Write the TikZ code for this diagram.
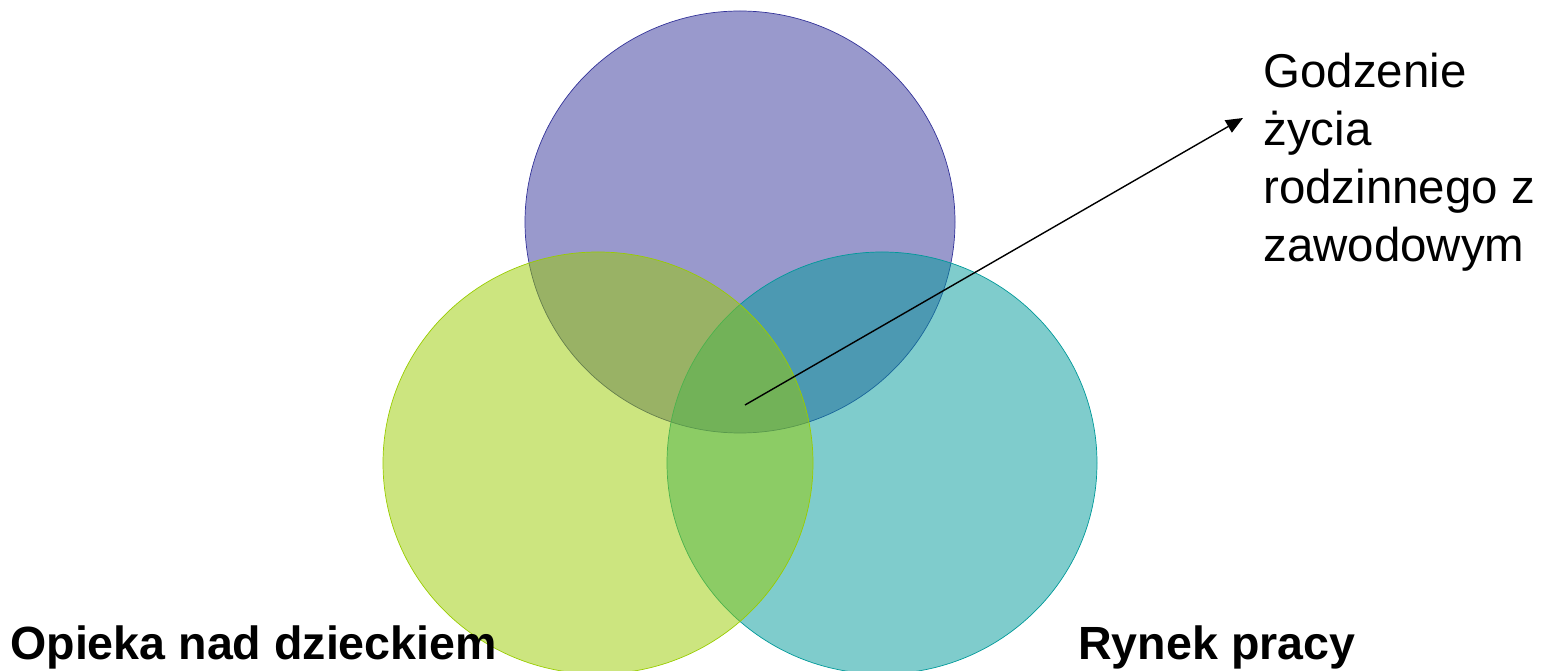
\documentclass[tikz,border=0pt]{standalone}
\usepackage{fontspec}
\setmainfont{Liberation Sans}
\usepackage{tikz}
\usetikzlibrary{shapes,arrows.meta,positioning}

\definecolor{rodzinaBlue}{HTML}{333399}
\definecolor{opiekaGreen}{HTML}{99CC00}
\definecolor{rynekTeal}{HTML}{009999}

\begin{document}
\begin{tikzpicture}
            [
                circlenew/.style={ellipse, thin, fill opacity=0.5, minimum width = 8.6cm, minimum height = 8.44cm, inner sep=0pt},
                labeltext/.style={font=\fontsize{26.5}{33}\selectfont\bfseries, inner sep=0pt, anchor=base west},
                sidetext/.style={font=\fontsize{27}{33}\selectfont, align=left, inner sep=0pt, anchor=north west},
            ]

            \useasboundingbox (0,0) rectangle (30.82,13.42);

            %% CIRCLES
            \node[circlenew, draw=rodzinaBlue, fill=rodzinaBlue] (rodzina) at(14.8,8.98) {};
            \node[circlenew, draw=rynekTeal, fill=rynekTeal] (rynek) at(17.64,4.16) {};
            \node[circlenew, draw=opiekaGreen, fill=opiekaGreen] (opieka) at(11.96,4.16) {};

            %% LABELS
            \node[labeltext] (textopieka) at(0.2,0.22) {Opieka nad dzieckiem};
            \node[labeltext] (textrynek) at(21.56,0.22) {Rynek pracy};
            \node[sidetext] (textgodzenie) at(25.26,12.36) {Godzenie\\życia\\rodzinnego z\\zawodowym};

            %% ARROW
            \coordinate (centre) at(14.9,5.32);
            \coordinate (tip) at(24.86,11.06);
            \draw[-{Triangle[length=3.4mm,width=2.8mm]}, thick] (centre) -- (tip);

        \end{tikzpicture}
\end{document}
